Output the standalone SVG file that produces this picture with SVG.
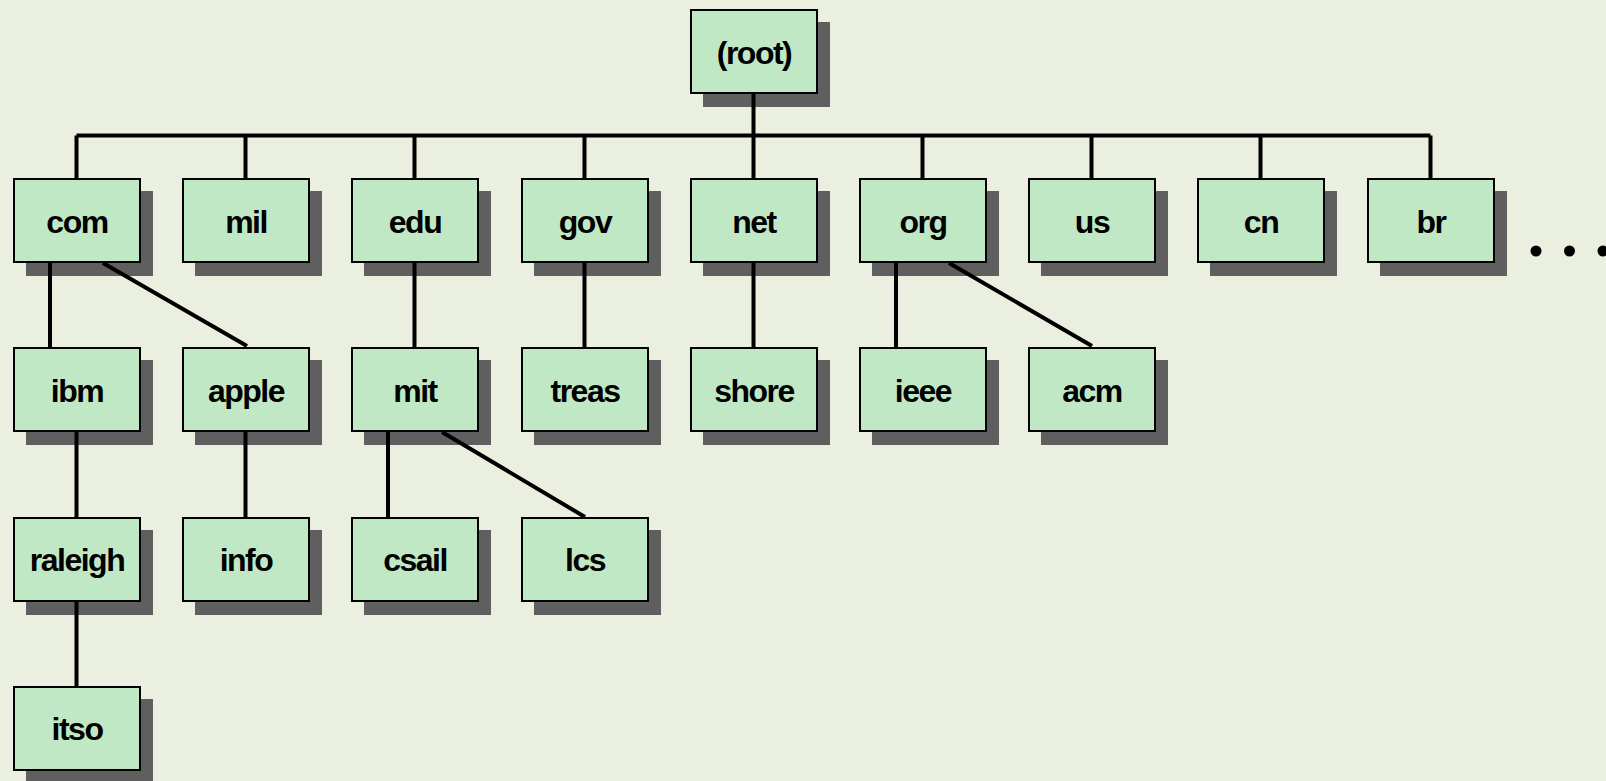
<svg xmlns="http://www.w3.org/2000/svg" width="1606" height="781" viewBox="0 0 1606 781">
<style>
.bg{fill:#ebefdf}
.sh{fill:#5f5f5f}
.bx{fill:#c0e8c4;stroke:#000;stroke-width:2}
.t{font-family:"Liberation Sans",Arial,sans-serif;font-weight:bold;font-size:32px;letter-spacing:-1.5px;text-anchor:middle;fill:#000}
.c{stroke:#000;stroke-width:4;fill:none}
</style>
<defs>
<g id="box">
<rect class="sh" x="13" y="13" width="127" height="85"/>
<rect class="bx" x="1" y="1" width="126" height="83"/>
</g>
</defs>
<rect class="bg" width="1606" height="781"/>
<g id="n-root"><use href="#box" x="690" y="9"/><text class="t" x="754" y="63.5">(root)</text></g>
<g id="n-com"><use href="#box" x="13" y="178"/><text class="t" x="77" y="232.5">com</text></g>
<g id="n-mil"><use href="#box" x="182" y="178"/><text class="t" x="246" y="232.5">mil</text></g>
<g id="n-edu"><use href="#box" x="351" y="178"/><text class="t" x="415" y="232.5">edu</text></g>
<g id="n-gov"><use href="#box" x="521" y="178"/><text class="t" x="585" y="232.5">gov</text></g>
<g id="n-net"><use href="#box" x="690" y="178"/><text class="t" x="754" y="232.5">net</text></g>
<g id="n-org"><use href="#box" x="859" y="178"/><text class="t" x="923" y="232.5">org</text></g>
<g id="n-us"><use href="#box" x="1028" y="178"/><text class="t" x="1092" y="232.5">us</text></g>
<g id="n-cn"><use href="#box" x="1197" y="178"/><text class="t" x="1261" y="232.5">cn</text></g>
<g id="n-br"><use href="#box" x="1367" y="178"/><text class="t" x="1431" y="232.5">br</text></g>
<g id="n-ibm"><use href="#box" x="13" y="347"/><text class="t" x="77" y="401.5">ibm</text></g>
<g id="n-apple"><use href="#box" x="182" y="347"/><text class="t" x="246" y="401.5">apple</text></g>
<g id="n-mit"><use href="#box" x="351" y="347"/><text class="t" x="415" y="401.5">mit</text></g>
<g id="n-treas"><use href="#box" x="521" y="347"/><text class="t" x="585" y="401.5">treas</text></g>
<g id="n-shore"><use href="#box" x="690" y="347"/><text class="t" x="754" y="401.5">shore</text></g>
<g id="n-ieee"><use href="#box" x="859" y="347"/><text class="t" x="923" y="401.5">ieee</text></g>
<g id="n-acm"><use href="#box" x="1028" y="347"/><text class="t" x="1092" y="401.5">acm</text></g>
<g id="n-raleigh"><use href="#box" x="13" y="517"/><text class="t" x="77" y="571">raleigh</text></g>
<g id="n-info"><use href="#box" x="182" y="517"/><text class="t" x="246" y="571">info</text></g>
<g id="n-csail"><use href="#box" x="351" y="517"/><text class="t" x="415" y="571">csail</text></g>
<g id="n-lcs"><use href="#box" x="521" y="517"/><text class="t" x="585" y="571">lcs</text></g>
<g id="n-itso"><use href="#box" x="13" y="686"/><text class="t" x="77" y="740">itso</text></g>
<g id="connectors">
<path class="c" d="M753.5 94V135.5M76.5 135.5H1430.5M76.5 135.5V178M245.5 135.5V178M414.5 135.5V178M584.5 135.5V178M753.5 135.5V178M922.5 135.5V178M1091.5 135.5V178M1260.5 135.5V178M1430.5 135.5V178"/>
<path class="c" d="M50 263V348M103 263L247 346M76.5 432V517M245.5 432V517M76.5 602V686"/>
<path class="c" d="M414.5 263V348M388 432V517M442 432L585 517"/>
<path class="c" d="M584.5 263V348M753.5 263V348"/>
<path class="c" d="M896 263V348M949 263L1092 346"/>
</g>
<g id="ellipsis">
<circle cx="1536" cy="251" r="5.5"/>
<circle cx="1569.5" cy="251" r="5.5"/>
<circle cx="1603" cy="251" r="5.5"/>
</g>
</svg>
